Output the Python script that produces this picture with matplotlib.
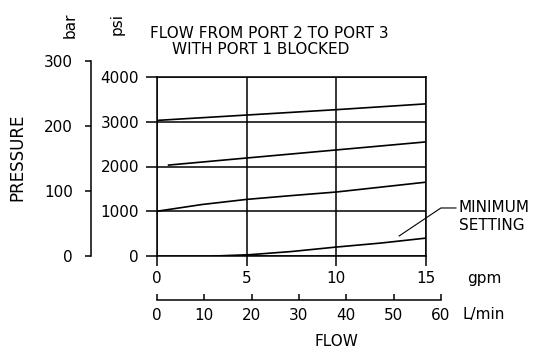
import numpy as np
import matplotlib
matplotlib.use('Agg')
import matplotlib.pyplot as plt

plt.rcParams['font.family'] = ['DejaVu Sans']

# 曲线数据 (gpm, psi)
gpm_1 = [0, 5, 10, 15]
psi_1 = [3030, 3150, 3270, 3400]
gpm_2 = [0.6, 5, 10, 15]
psi_2 = [2030, 2190, 2370, 2550]
gpm_3 = [0, 2.5, 5, 7.5, 10, 12.5, 15]
psi_3 = [1000, 1150, 1265, 1350, 1430, 1540, 1650]
gpm_4 = [3.2, 5.2, 7.5, 10, 12.5, 15]
psi_4 = [0, 30, 100, 200, 290, 400]

psi_ticks = [0, 1000, 2000, 3000, 4000]
bar_ticks = [0, 100, 200, 300]
gpm_ticks = [0, 5, 10, 15]
lmin_ticks = [0, 10, 20, 30, 40, 50, 60]

W, H = 542, 354
fig = plt.figure(figsize=(W / 100, H / 100), dpi=100)

def px(x0, y0, x1, y1):
    # 像素坐标 -> figure 坐标
    return [x0 / W, 1 - y1 / H, (x1 - x0) / W, (y1 - y0) / H]

lw = 1.1
fs = 11

# 主图
ax = fig.add_axes(px(157, 77, 426, 256))
for g, p in [(gpm_1, psi_1), (gpm_2, psi_2), (gpm_3, psi_3), (gpm_4, psi_4)]:
    ax.plot(g, p, color='black', lw=1.2, solid_capstyle='butt')
ax.set_xlim(0, 15)
ax.set_ylim(0, 4000)
ax.set_xticks(gpm_ticks)
ax.set_yticks(psi_ticks)
ax.grid(True, color='black', lw=lw)
for s in ax.spines.values():
    s.set_linewidth(lw)
ax.tick_params(axis='y', direction='out', length=8, width=lw, pad=5, labelsize=fs)
ax.tick_params(axis='x', direction='out', length=7, width=lw, pad=4, labelsize=fs)

# 最小设定引线
ax.plot([13.5, 15.83, 16.67], [447, 1073, 1073], color='black', lw=0.8, clip_on=False)
fig.text(459 / W, 1 - 208 / H, 'MINIMUM', fontsize=fs, va='center', ha='left')
fig.text(459 / W, 1 - 226 / H, 'SETTING', fontsize=fs, va='center', ha='left')

# bar 轴
axb = fig.add_axes(px(91, 61, 100, 256))
axb.set_ylim(0, 300)
axb.set_yticks(bar_ticks)
axb.set_xticks([])
for k in ['top', 'right', 'bottom']:
    axb.spines[k].set_visible(False)
axb.spines['left'].set_linewidth(lw)
axb.patch.set_visible(False)
axb.tick_params(axis='y', direction='out', length=4, width=lw, pad=9, labelsize=fs)

# L/min 轴
axl = fig.add_axes(px(157, 299, 441, 300))
axl.set_xlim(0, 60)
axl.set_xticks(lmin_ticks)
axl.set_yticks([])
for k in ['top', 'right', 'left']:
    axl.spines[k].set_visible(False)
axl.spines['bottom'].set_linewidth(lw)
axl.patch.set_visible(False)
axl.tick_params(axis='x', direction='in', length=4, width=lw, pad=6, labelsize=fs)

# 文字
fig.text(150 / W, 1 - 33 / H, 'FLOW FROM PORT 2 TO PORT 3', fontsize=fs, va='center', ha='left')
fig.text(172 / W, 1 - 50 / H, 'WITH PORT 1 BLOCKED', fontsize=fs, va='center', ha='left')
fig.text(17 / W, 1 - 157 / H, 'PRESSURE', fontsize=fs + 1, rotation=90, va='center', ha='center')
fig.text(70 / W, 1 - 25 / H, 'bar', fontsize=fs, rotation=90, va='center', ha='center')
fig.text(117 / W, 1 - 24 / H, 'psi', fontsize=fs, rotation=90, va='center', ha='center')
fig.text(467 / W, 1 - 279 / H, 'gpm', fontsize=fs, va='center', ha='left')
fig.text(462 / W, 1 - 315 / H, 'L/min', fontsize=fs, va='center', ha='left')
fig.text(336 / W, 1 - 342 / H, 'FLOW', fontsize=fs, va='center', ha='center')

fig.savefig('out.png', dpi=100)
